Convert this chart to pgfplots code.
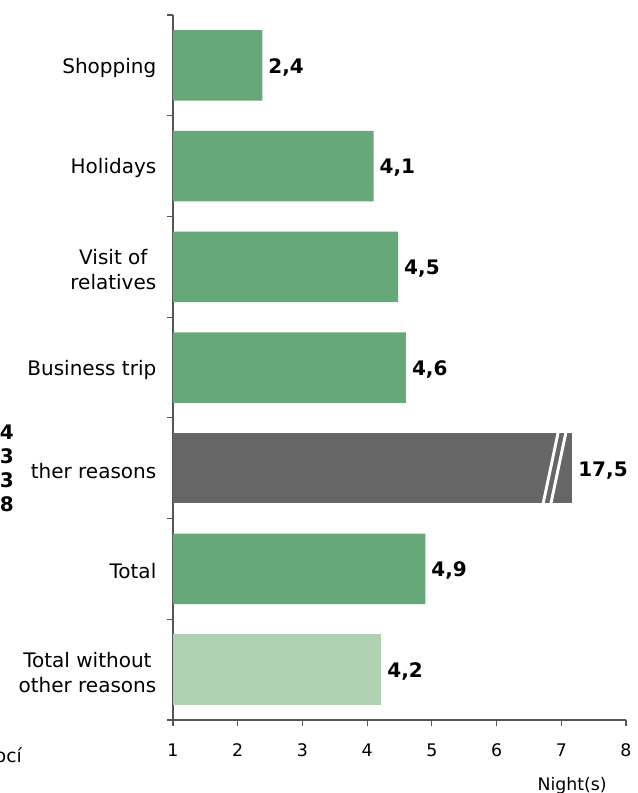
\documentclass[border=0pt]{standalone}
\usepackage{pgfplots}
\pgfplotsset{compat=1.18}
\usepackage{fontspec}
\setmainfont{DejaVu Sans}
\definecolor{barGreen}{RGB}{103,168,120}
\definecolor{barLight}{RGB}{174,209,178}
\definecolor{barGray}{RGB}{102,102,102}
\definecolor{axGray}{RGB}{85,85,85}
\begin{document}
\begin{tikzpicture}
\begin{axis}[
  at={(0,0)}, anchor=south west,
  scale only axis, width=339.75pt, height=528.75pt,
  xmin=1, xmax=8, ymin=-0.5, ymax=6.5, y dir=reverse,
  xbar, bar width=0.7, bar shift=0pt,
  axis x line*=bottom, axis y line*=left,
  axis line style={axGray, line width=0.9pt},
  tick style={axGray, line width=0.8pt},
  tick align=outside, major tick length=4.5pt,
  xtick={1,...,8},
  ytick={-0.5,0.5,...,6.5}, yticklabels={},
  extra y ticks={0,...,6},
  extra y tick labels={Shopping, Holidays, {Visit of\\relatives}, Business trip, Other reasons, Total, {Total without\\other reasons}},
  extra y tick style={tick style={draw=none}},
  xticklabel style={font=\fontsize{13}{15}\selectfont, /pgf/number format/assume math mode=true, yshift=-10pt},
  yticklabel style={font=\fontsize{15}{18.75}\selectfont, align=center, xshift=-4.5pt, yshift=-1.8pt},
  nodes near coords style={font=\fontsize{15}{18}\selectfont\bfseries, anchor=west, text=black, xshift=1pt, yshift=-1.5pt},
]
\addplot[fill=barGreen, draw=none, nodes near coords, point meta=explicit symbolic] table[meta=label] {
x y label
2.38 0 2,4
4.10 1 4,1
4.48 2 4,5
4.60 3 4,6
4.90 5 4,9
};
\addplot[fill=barGray, draw=none, nodes near coords, point meta=explicit symbolic] table[meta=label] {
x y label
7.17 4 17,5
};
\addplot[fill=barLight, draw=none, nodes near coords, point meta=explicit symbolic] table[meta=label] {
x y label
4.22 6 4,2
};
\addplot[white, line width=2.2pt, sharp plot, forget plot, no markers] coordinates {(6.72,4.35) (6.95,3.65)};
\addplot[white, line width=2.2pt, sharp plot, forget plot, no markers] coordinates {(6.84,4.35) (7.07,3.65)};
\end{axis}
\fill[white] (-140pt,150pt) rectangle (-107pt,226.5pt);
\begin{scope}[every node/.style={anchor=east, inner sep=0pt, font=\fontsize{15}{18}\selectfont\bfseries}]
\node at (-119.25pt,216pt) {4};
\node at (-119.25pt,198pt) {3};
\node at (-119.25pt,180pt) {3};
\node at (-119.25pt,162pt) {8};
\end{scope}
\node[anchor=east, inner sep=0pt, font=\fontsize{14}{16}\selectfont] at (-113.25pt,-26.25pt) {ocí};
\node[anchor=east, inner sep=0pt, font=\fontsize{13}{15}\selectfont] at (325.5pt,-49pt) {Night(s)};
\pgfresetboundingbox
\useasboundingbox (-129.75pt,-54.75pt) rectangle (348pt,540pt);
\end{tikzpicture}
\end{document}
